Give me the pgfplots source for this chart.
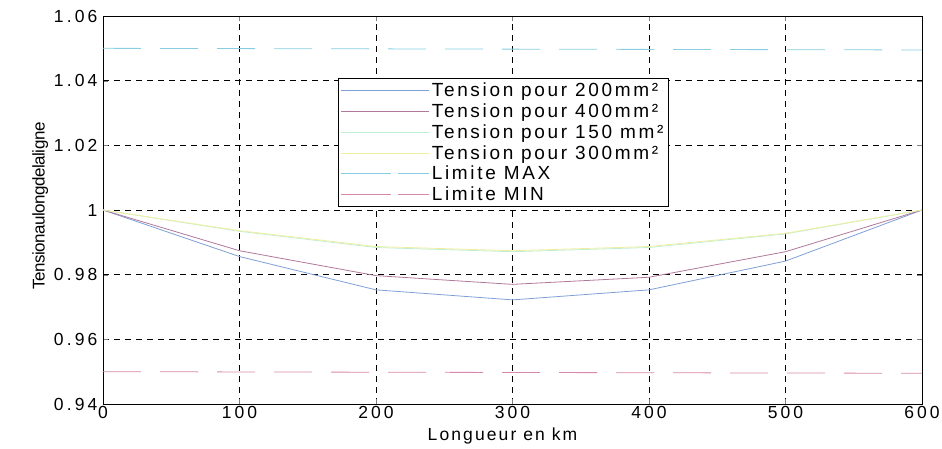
\documentclass[border=0pt]{standalone}
\usepackage{fontspec}
\setmainfont{Liberation Sans}
\newfontfamily\spaced[LetterSpace=18]{Liberation Sans}
\newfontfamily\wide[LetterSpace=12]{Liberation Sans}
\newfontfamily\legfont[LetterSpace=14]{Liberation Sans}
\newfontfamily\tight[LetterSpace=-3]{Liberation Sans}
\usepackage{pgfplots}
\pgfplotsset{compat=1.18}

\definecolor{c200}{HTML}{7FA0D4}
\definecolor{c400}{HTML}{B0789A}
\definecolor{c150}{HTML}{BFEFD2}
\definecolor{c300}{HTML}{F0EEA0}
\definecolor{cmax}{HTML}{88CDE2}
\definecolor{cmin}{HTML}{D888AA}

\begin{document}
\begin{tikzpicture}
\useasboundingbox (-103pt,-45pt) rectangle (839pt,404pt);
\begin{axis}[
  scale only axis,
  width=819pt, height=388pt,
  xmin=0, xmax=600, ymin=0.94, ymax=1.06,
  xtick={0,100,...,600},
  ytick={0.94,0.96,0.98,1,1.02,1.04,1.06},
  yticklabels={0.94,0.96,0.98,1,1.02,1.04,1.06},
  /pgf/number format/assume math mode=true,
  tick label style={font=\spaced\fontsize{17.5}{19}\selectfont},
  xticklabel style={yshift=1pt},
  yticklabel style={xshift=-2pt},
  tick align=inside,
  major tick length=5pt,
  xmajorgrids, ymajorgrids,
  grid style={black, dash pattern=on 6pt off 5pt, line width=0.5pt},
  axis line style={black, line width=0.6pt},
  xlabel={Longueur en km},
  xlabel style={font=\wide\fontsize{17.5}{19}\selectfont, yshift=-2pt, xshift=-10pt},
  ylabel={Tensionaulongdelaligne},
  ylabel style={font=\tight\fontsize{17}{19}\selectfont, yshift=-1pt, xshift=4pt},
  legend style={at={(axis cs:172,1.0408)}, anchor=north west,
    draw=black, line width=0.6pt, fill=white,
    font=\legfont\fontsize{19}{21}\selectfont,
    nodes={inner ysep=2.8pt},
    inner xsep=3pt, inner ysep=1.5pt},
  legend cell align=left,
  legend image code/.code={%
    \path (0pt,0pt) -- (88pt,0pt);
    \draw[#1] (12pt,0pt) -- (85pt,0pt);},
  every axis plot/.append style={line width=0.8pt},
]
\addplot[c200] coordinates {(0,1) (100,0.9856) (200,0.9753) (300,0.9722) (400,0.9753) (500,0.9842) (600,1)};
\addlegendentry{Tension pour 200mm²}
\addplot[c400] coordinates {(0,1) (100,0.9874) (200,0.9797) (300,0.9770) (400,0.9792) (500,0.9871) (600,1)};
\addlegendentry{Tension pour 400mm²}
\addplot[c150] coordinates {(0,1) (100,0.9934) (200,0.9884) (300,0.9871) (400,0.9884) (500,0.9926) (600,1)};
\addlegendentry{Tension pour 150 mm²}
\addplot[c300] coordinates {(0,1) (100,0.9936) (200,0.9887) (300,0.9874) (400,0.9887) (500,0.9928) (600,1)};
\addlegendentry{Tension pour 300mm²}
\addplot[cmax, dash pattern=on 38pt off 19pt] coordinates {(0,1.05) (600,1.0495)};
\addlegendentry{Limite MAX}
\addplot[cmin, dash pattern=on 38pt off 19pt] coordinates {(0,0.95) (600,0.9495)};
\addlegendentry{Limite MIN}
\end{axis}
\end{tikzpicture}
\end{document}
